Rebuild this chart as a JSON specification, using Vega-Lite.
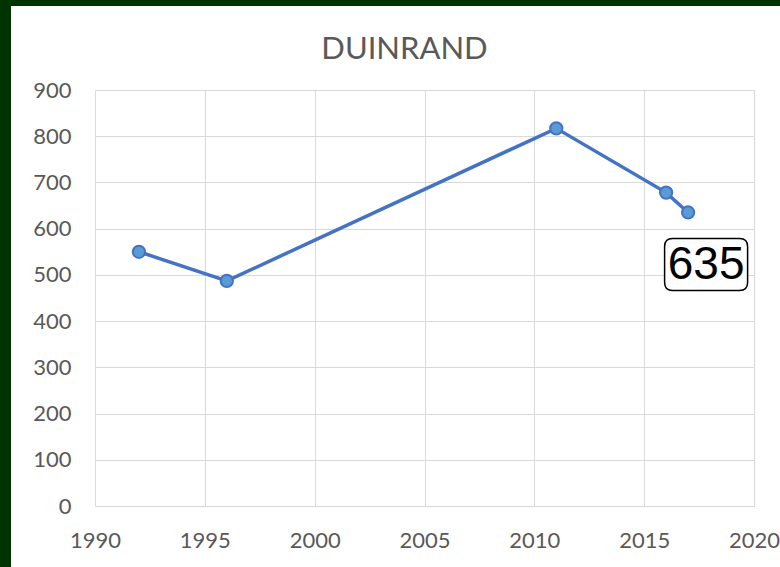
{
  "$schema": "https://vega.github.io/schema/vega-lite/v6.json",
  "autosize": {"type": "none"},
  "width": 659,
  "height": 416,
  "padding": {"left": 95, "top": 90, "right": 26, "bottom": 61},
  "background": "#013300",
  "title": {
    "text": "DUINRAND",
    "font": "Lato",
    "fontSize": 31,
    "fontWeight": "normal",
    "color": "#595959",
    "anchor": "middle",
    "baseline": "alphabetic",
    "offset": 18,
    "dx": -20,
    "dy": 29
  },
  "data": {
    "values": [
      {"year": 1992, "value": 550},
      {"year": 1996, "value": 487},
      {"year": 2011, "value": 817},
      {"year": 2016, "value": 678},
      {"year": 2017, "value": 635}
    ]
  },
  "encoding": {
    "x": {
      "field": "year",
      "type": "quantitative",
      "scale": {"domain": [1990, 2020], "nice": false, "zero": false},
      "axis": {
        "title": null,
        "values": [1990, 1995, 2000, 2005, 2010, 2015, 2020],
        "format": "d",
        "domain": false,
        "ticks": false,
        "grid": true,
        "gridColor": "#d9d9d9",
        "gridWidth": 1,
        "labelFont": "Lato",
        "labelFontSize": 22,
        "labelColor": "#595959",
        "labelPadding": 24,
        "labelFlush": false,
        "labelOverlap": false
      }
    },
    "y": {
      "field": "value",
      "type": "quantitative",
      "scale": {"domain": [0, 900], "nice": false},
      "axis": {
        "title": null,
        "values": [0, 100, 200, 300, 400, 500, 600, 700, 800, 900],
        "domain": false,
        "ticks": false,
        "grid": true,
        "gridColor": "#d9d9d9",
        "gridWidth": 1,
        "labelFont": "Lato",
        "labelFontSize": 22,
        "labelColor": "#595959",
        "labelPadding": 24,
        "labelFlush": false,
        "labelOverlap": false
      }
    }
  },
  "layer": [
    {
      "mark": {"type": "line", "color": "#4472C4", "strokeWidth": 3.5}
    },
    {
      "mark": {
        "type": "point",
        "shape": "circle",
        "filled": true,
        "fill": "#5B9BD5",
        "stroke": "#4472C4",
        "strokeWidth": 2,
        "size": 150,
        "opacity": 1
      }
    },
    {
      "transform": [{"filter": "datum.year == 2017"}],
      "mark": {
        "type": "point",
        "shape": "M -0.807 -0.627 L 0.807 -0.627 Q 1 -0.627 1 -0.434 L 1 0.434 Q 1 0.627 0.807 0.627 L -0.807 0.627 Q -1 0.627 -1 0.434 L -1 -0.434 Q -1 -0.627 -0.807 -0.627 Z",
        "size": 6889,
        "filled": true,
        "fill": "white",
        "stroke": "black",
        "strokeWidth": 1.5,
        "opacity": 1,
        "xOffset": 18,
        "yOffset": 52
      }
    },
    {
      "transform": [{"filter": "datum.year == 2017"}],
      "mark": {
        "type": "text",
        "font": "Liberation Sans",
        "fontSize": 46,
        "color": "black",
        "align": "center",
        "baseline": "middle",
        "dx": 18,
        "dy": 53
      },
      "encoding": {"text": {"field": "value", "type": "quantitative"}}
    }
  ],
  "config": {
    "view": {"fill": "white", "stroke": "white", "strokeWidth": 168}
  }
}
